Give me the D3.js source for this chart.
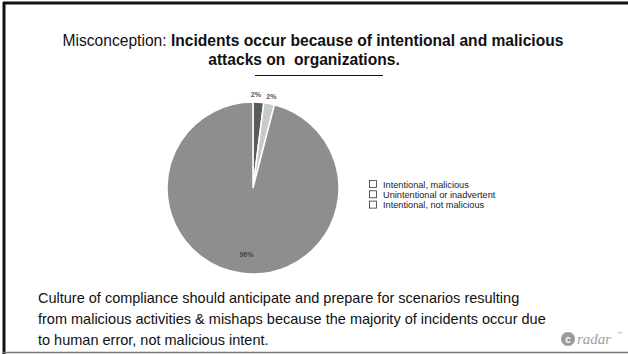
<!DOCTYPE html>
<html><head><meta charset="utf-8">
<script src="https://cdn.jsdelivr.net/npm/d3@7"></script>
<style>body{margin:0;background:#fff}svg{display:block;font-family:"Liberation Sans",Arial,sans-serif}</style>
</head><body>
<svg id="c" width="628" height="354"></svg>
<script>
const categories = ["Intentional, malicious", "Unintentional or inadvertent", "Intentional, not malicious"];
const sliceOrder = ["Intentional, malicious", "Intentional, not malicious", "Unintentional or inadvertent"];
const values = [2, 2, 96];
const valueLabels = ["2%", "2%", "96%"];
const sliceColors = ["#5a5a5a", "#c9c9c9", "#8e8e8e"];

const svg = d3.select("#c");
// frame
svg.append("rect").attr("x",0).attr("y",0).attr("width",628).attr("height",354).attr("fill","#fff");
svg.append("line").attr("x1",3).attr("x2",628).attr("y1",3).attr("y2",3).attr("stroke","#111").attr("stroke-width",3);
svg.append("line").attr("x1",4).attr("x2",4).attr("y1",2).attr("y2",354).attr("stroke","#111").attr("stroke-width",3);
svg.append("line").attr("x1",3).attr("x2",628).attr("y1",352.5).attr("y2",352.5).attr("stroke","#777").attr("stroke-width",1.5);

// title
const t = svg.append("text").attr("x",313).attr("y",46).attr("text-anchor","middle").attr("font-size",15.6).attr("fill","#111");
t.append("tspan").text("Misconception: ");
t.append("tspan").attr("font-weight","bold").text("Incidents occur because of intentional and malicious");
svg.append("text").attr("x",304).attr("y",65).attr("text-anchor","middle").attr("font-size",15.6).attr("font-weight","bold").attr("fill","#111")
  .style("white-space","pre").text("attacks on  organizations.");
svg.append("line").attr("x1",255).attr("x2",383).attr("y1",75.5).attr("y2",75.5).attr("stroke","#111").attr("stroke-width",1);

// pie
const cx = 253, cy = 188, r = 86;
const pie = d3.pie().sort(null).value(d => d.v);
const data = values.map((v,i) => ({v, name: sliceOrder[i], label: valueLabels[i], color: sliceColors[i]}));
const arcs = pie(data);
const arc = d3.arc().innerRadius(0).outerRadius(r);
const g = svg.append("g").attr("transform",`translate(${cx},${cy})`);
g.selectAll("path").data(arcs).join("path").attr("d",arc).attr("fill",d=>d.data.color).attr("stroke","#fff").attr("stroke-width",1.5);

// labels
const labelArc = d3.arc().innerRadius(r+7).outerRadius(r+7);
g.selectAll("text.lbl").data(arcs.slice(0,2)).join("text").attr("class","lbl")
  .attr("transform",(d,i)=>{const c=labelArc.centroid(d);return `translate(${c[0]+(i===0?-3:1)},${c[1]+2})`;})
  .attr("text-anchor","middle").attr("font-size",7).attr("font-weight","bold").attr("fill","#555").text(d=>d.data.label);
const inArc = d3.arc().innerRadius(r*0.8).outerRadius(r*0.8);
g.selectAll("text.in").data(arcs.slice(2)).join("text").attr("class","in")
  .attr("transform",d=>{const c=inArc.centroid(d);return `translate(${c[0]+2},${c[1]+1})`;})
  .attr("text-anchor","middle").attr("font-size",7).attr("font-weight","bold").attr("fill","#444").text(d=>d.data.label);

// legend
const lg = svg.append("g").attr("transform","translate(369,180)");
const rows = lg.selectAll("g").data(categories).join("g").attr("transform",(d,i)=>`translate(0,${i*10.3})`);
rows.append("rect").attr("x",0.5).attr("y",0.5).attr("width",7).attr("height",7).attr("fill","#fff").attr("stroke","#333").attr("stroke-width",0.8);
rows.append("text").attr("x",14).attr("y",7.5).attr("font-size",9.2).attr("fill","#222").text(d=>d);

// bottom text
const lines = ["Culture of compliance should anticipate and prepare for scenarios resulting",
  "from malicious activities & mishaps because the majority of incidents occur due",
  "to human error, not malicious intent."];
svg.selectAll("text.body").data(lines).join("text").attr("class","body")
  .attr("x",38).attr("y",(d,i)=>303+i*21).attr("font-size",14.5).attr("fill","#111").text(d=>d);

// logo
svg.append("circle").attr("cx",568).attr("cy",339).attr("r",7).attr("fill","#9a9a9a");
svg.append("text").attr("x",568).attr("y",342.5).attr("text-anchor","middle").attr("font-size",10).attr("font-weight","bold").attr("fill","#fff").text("c");
svg.append("text").attr("x",577).attr("y",344).attr("font-size",15).attr("font-style","italic").attr("font-family","'Liberation Serif',serif").attr("fill","#a0a0a0").text("radar");
svg.append("text").attr("x",617).attr("y",335).attr("font-size",5).attr("fill","#aaa").text("™");
</script>
</body></html>
